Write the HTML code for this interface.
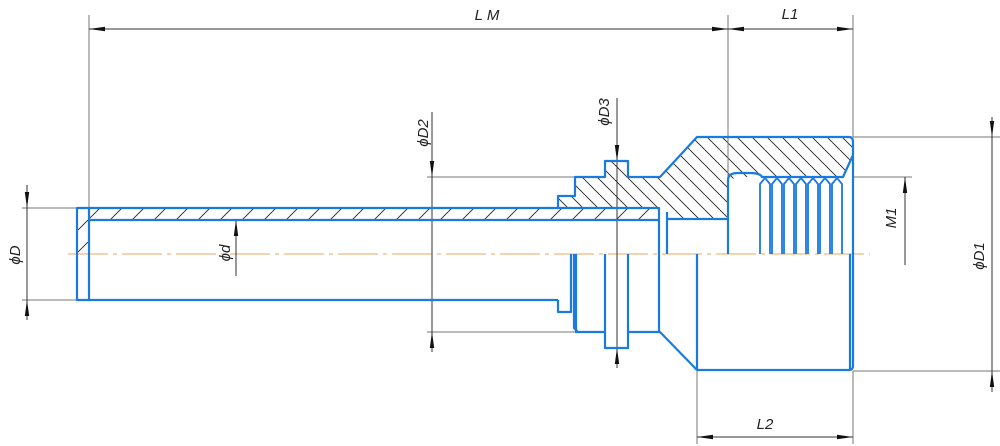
<!DOCTYPE html>
<html><head><style>html,body{margin:0;padding:0;background:#fff;}svg{display:block}</style></head>
<body>
<svg width="1000" height="446" viewBox="0 0 1000 446" xmlns="http://www.w3.org/2000/svg">
<defs>
<pattern id="h1" patternUnits="userSpaceOnUse" width="22" height="22">
<line x1="0" y1="22" x2="22" y2="0" stroke="#222" stroke-width="0.9"/>
</pattern>
<pattern id="h2" patternUnits="userSpaceOnUse" width="15" height="15">
<line x1="0" y1="0" x2="15" y2="15" stroke="#222" stroke-width="0.9"/>
<line x1="-15" y1="0" x2="0" y2="15" stroke="#222" stroke-width="0.9"/>
<line x1="15" y1="0" x2="30" y2="15" stroke="#222" stroke-width="0.9"/>
</pattern>
<marker id="a" viewBox="0 0 16 6" refX="16" refY="3" markerWidth="16" markerHeight="6" orient="auto" markerUnits="userSpaceOnUse">
<path d="M0,0.8 L16,3 L0,5.2 Z" fill="#111"/>
</marker>
</defs>
<rect x="77" y="208" width="582" height="12" fill="url(#h1)"/>
<rect x="77" y="208" width="12" height="46" fill="url(#h1)"/>
<path d="M558,208 L558,196 L575,196 L575,177 L605,177 L605,161 L628,161 L628,177 L660,177 L697,137 L853,137 L853,155 L843,177 L740,177 Q728,177 728,190 L728,219 L667,219 L667,208 Z" fill="url(#h2)"/>
<line x1="68" y1="254" x2="870" y2="254" stroke="#e8a860" stroke-width="1" stroke-dasharray="40,5,4,5"/>
<g stroke="#777" stroke-width="1" fill="none">
<line x1="89" y1="15" x2="89" y2="208"/>
<line x1="728" y1="15" x2="728" y2="177"/>
<line x1="853" y1="15" x2="853" y2="137"/>
<line x1="853" y1="371" x2="853" y2="444"/>
<line x1="697" y1="371" x2="697" y2="444"/>
<line x1="22" y1="208" x2="77" y2="208"/>
<line x1="22" y1="300" x2="77" y2="300"/>
<line x1="427" y1="177" x2="575" y2="177"/>
<line x1="427" y1="332" x2="575" y2="332"/>
<line x1="853" y1="137" x2="1000" y2="137"/>
<line x1="853" y1="371" x2="1000" y2="371"/>
<line x1="853" y1="177" x2="912" y2="177"/>
</g>
<g stroke="#333" stroke-width="1" fill="none">
<line x1="410" y1="29" x2="728" y2="29" marker-end="url(#a)"/>
<line x1="410" y1="29" x2="89" y2="29" marker-end="url(#a)"/>
<line x1="790" y1="29" x2="853" y2="29" marker-end="url(#a)"/>
<line x1="790" y1="29" x2="728" y2="29" marker-end="url(#a)"/>
<line x1="775" y1="437" x2="853" y2="437" marker-end="url(#a)"/>
<line x1="775" y1="437" x2="697" y2="437" marker-end="url(#a)"/>
<line x1="27" y1="185" x2="27" y2="208" marker-end="url(#a)"/>
<line x1="27" y1="208" x2="27" y2="300"/>
<line x1="27" y1="320" x2="27" y2="300" marker-end="url(#a)"/>
<line x1="236" y1="276" x2="236" y2="220" marker-end="url(#a)"/>
<line x1="432" y1="112" x2="432" y2="177" marker-end="url(#a)"/>
<line x1="432" y1="177" x2="432" y2="332"/>
<line x1="432" y1="352" x2="432" y2="332" marker-end="url(#a)"/>
<line x1="617" y1="98" x2="617" y2="161" marker-end="url(#a)"/>
<line x1="617" y1="161" x2="617" y2="348"/>
<line x1="617" y1="368" x2="617" y2="348" marker-end="url(#a)"/>
<line x1="905" y1="265" x2="905" y2="177" marker-end="url(#a)"/>
<line x1="992" y1="117" x2="992" y2="137" marker-end="url(#a)"/>
<line x1="992" y1="137" x2="992" y2="371"/>
<line x1="992" y1="392" x2="992" y2="371" marker-end="url(#a)"/>
</g>
<g stroke="#1a7ae0" stroke-width="2.2" fill="none" stroke-linejoin="round">
<rect x="77" y="208" width="12" height="92"/>
<line x1="89" y1="208" x2="558" y2="208"/>
<line x1="89" y1="220" x2="659" y2="220"/>
<line x1="89" y1="300" x2="558" y2="300"/>
<path d="M558,208 L558,196 L575,196 L575,177 L605,177 L605,161 L628,161 L628,177 L660,177 L697,137 L849,137 Q853,137 853,142 L853,366 Q853,370 849,370 L697,370 L660,332 L628,332 L628,348 L605,348 L605,332 L575,332"/>
<path d="M558,208 L659,208 L659,332"/>
<line x1="667" y1="212" x2="667" y2="254"/>
<line x1="667" y1="219" x2="728" y2="219"/>
<line x1="697" y1="254" x2="697" y2="370"/>
<path d="M728,254 L728,180 Q728,173 738,173 L750,173 Q760,173 762,177 L843,177 L853,155"/>
<path d="M558,300 L558,312 L571,312 L571,254 M574,254 L574,328 L578,332 M576,254 L576,332"/>
<path d="M605,254 L605,332 M628,254 L628,332"/>
<line x1="850" y1="254" x2="850" y2="370"/>
</g>
<g stroke="#1a7ae0" stroke-width="1.8" fill="none">
<path d="M760,254 L760,184 L765,178 L770,184 L770,254"/>
<path d="M772,254 L772,184 L777,178 L782,184 L782,254"/>
<path d="M784,254 L784,184 L789,178 L794,184 L794,254"/>
<path d="M796,254 L796,184 L801,178 L806,184 L806,254"/>
<path d="M808,254 L808,184 L813,178 L818,184 L818,254"/>
<path d="M820,254 L820,184 L825,178 L830,184 L830,254"/>
<path d="M832,254 L832,184 L837,178 L842,184 L842,254"/>
</g>
<g font-family="Liberation Sans, sans-serif" font-style="italic" font-size="15" fill="#222" text-anchor="middle">
<text x="487" y="20">L M</text>
<text x="790" y="19">L1</text>
<text x="765" y="429">L2</text>
<text transform="translate(20,255) rotate(-90)">ϕD</text>
<text transform="translate(230,253) rotate(-90)">ϕd</text>
<text transform="translate(428,133) rotate(-90)">ϕD2</text>
<text transform="translate(609,112) rotate(-90)">ϕD3</text>
<text transform="translate(896,218) rotate(-90)">M1</text>
<text transform="translate(984,256) rotate(-90)">ϕD1</text>
</g>
</svg>
</body></html>
